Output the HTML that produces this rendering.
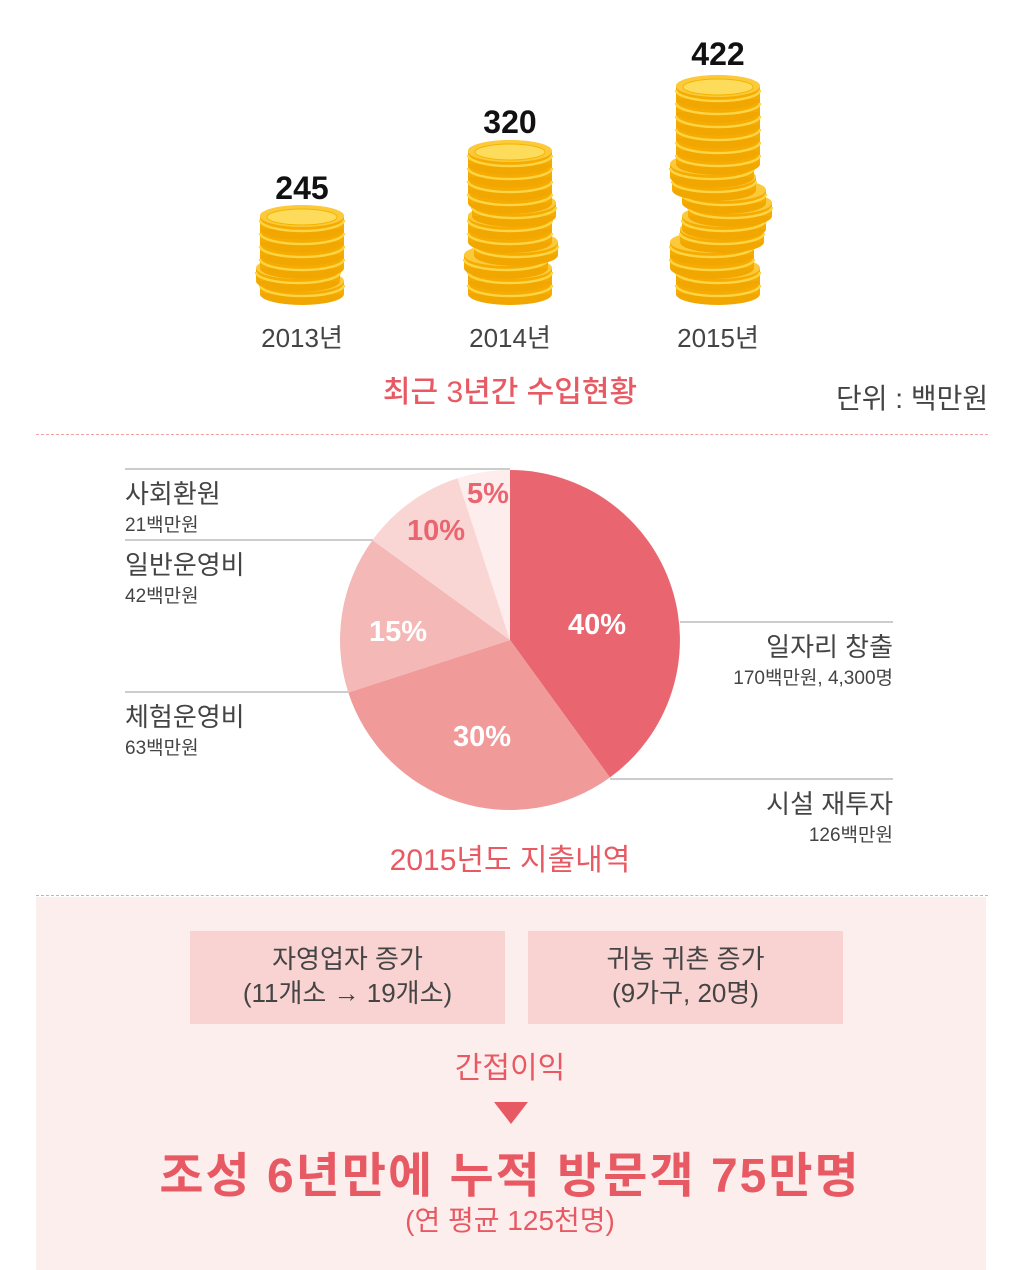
<!DOCTYPE html>
<html><head><meta charset="utf-8"><style>
body{margin:0;background:#fff;width:1024px;height:1270px;position:relative;overflow:hidden;font-family:"Liberation Sans","Noto Sans CJK KR",sans-serif;}
.a{position:absolute;white-space:nowrap;}
.c{transform:translateX(-50%);}
</style></head><body>
<svg id="coins" class="a" style="left:0;top:0" width="1024" height="320"></svg>
<div class="a c" style="left:302px;top:170px;font-size:32px;font-weight:bold;color:#111">245</div>
<div class="a c" style="left:510px;top:104px;font-size:32px;font-weight:bold;color:#111">320</div>
<div class="a c" style="left:718px;top:36px;font-size:32px;font-weight:bold;color:#111">422</div>
<div class="a c" style="left:302px;top:318px;font-size:26px;color:#444">2013년</div>
<div class="a c" style="left:510px;top:318px;font-size:26px;color:#444">2014년</div>
<div class="a c" style="left:718px;top:318px;font-size:26px;color:#444">2015년</div>
<div class="a c" style="left:510px;top:367px;font-size:30px;color:#e85a63;font-weight:500">최근 3년간 수입현황</div>
<div class="a" style="left:836px;top:377px;font-size:28px;color:#444">단위 : 백만원</div>
<div class="a" style="left:36px;top:434px;width:952px;border-top:1px dashed #f2a0a0"></div>

<svg class="a" style="left:0;top:440px" width="1024" height="400">
<g transform="translate(0,-440)">
<line x1="125" y1="469" x2="510" y2="469" stroke="#bbb" stroke-width="1.5"/>
<line x1="125" y1="540" x2="373" y2="540" stroke="#bbb" stroke-width="1.5"/>
<line x1="125" y1="692" x2="348" y2="692" stroke="#bbb" stroke-width="1.5"/>
<line x1="680" y1="622" x2="893" y2="622" stroke="#bbb" stroke-width="1.5"/>
<line x1="610" y1="779" x2="893" y2="779" stroke="#bbb" stroke-width="1.5"/>
<path d="M510,640 L510,470 A170,170 0 0 1 609.9,777.5 Z" fill="#e96670"/>
<path d="M510,640 L609.9,777.5 A170,170 0 0 1 348.3,692.5 Z" fill="#f09a9a"/>
<path d="M510,640 L348.3,692.5 A170,170 0 0 1 372.5,540.1 Z" fill="#f4b8b6"/>
<path d="M510,640 L372.5,540.1 A170,170 0 0 1 457.5,478.3 Z" fill="#f9d6d4"/>
<path d="M510,640 L457.5,478.3 A170,170 0 0 1 510,470 Z" fill="#fdeeed"/>
<g font-family="Liberation Sans, sans-serif" font-weight="bold" font-size="29" text-anchor="middle">
<text x="597" y="634" fill="#fff">40%</text>
<text x="482" y="746" fill="#fff">30%</text>
<text x="398" y="641" fill="#fff">15%</text>
<text x="436" y="540" fill="#e96670">10%</text>
<text x="488" y="503" fill="#e96670">5%</text>
</g></g></svg>
<div class="a" style="left:125px;top:474px;font-size:26px;color:#444">사회환원</div>
<div class="a" style="left:125px;top:510px;font-size:19px;color:#444">21백만원</div>
<div class="a" style="left:125px;top:545px;font-size:26px;color:#444">일반운영비</div>
<div class="a" style="left:125px;top:581px;font-size:19px;color:#444">42백만원</div>
<div class="a" style="left:125px;top:697px;font-size:26px;color:#444">체험운영비</div>
<div class="a" style="left:125px;top:733px;font-size:19px;color:#444">63백만원</div>
<div class="a" style="right:131px;top:627px;font-size:26px;color:#444">일자리 창출</div>
<div class="a" style="right:131px;top:663px;font-size:19px;color:#444">170백만원, 4,300명</div>
<div class="a" style="right:131px;top:784px;font-size:26px;color:#444">시설 재투자</div>
<div class="a" style="right:131px;top:820px;font-size:19px;color:#444">126백만원</div>
<div class="a c" style="left:510px;top:835px;font-size:30px;color:#e85a63">2015년도 지출내역</div>
<div class="a" style="left:36px;top:895px;width:952px;border-top:1px dashed #f2a0a0"></div>

<div class="a" style="left:36px;top:897px;width:950px;height:373px;background:#fdeeee"></div>
<div class="a" style="left:190px;top:931px;width:315px;height:93px;background:#f8d3d2;text-align:center;font-size:26px;color:#444;line-height:34px;padding-top:11px;box-sizing:border-box">자영업자 증가<br>(11개소 → 19개소)</div>
<div class="a" style="left:528px;top:931px;width:315px;height:93px;background:#f8d3d2;text-align:center;font-size:26px;color:#444;line-height:34px;padding-top:11px;box-sizing:border-box">귀농 귀촌 증가<br>(9가구, 20명)</div>
<div class="a c" style="left:510px;top:1043px;font-size:30px;color:#e85a63">간접이익</div>
<svg class="a" style="left:494px;top:1102px" width="34" height="22"><polygon points="0,0 34,0 17,22" fill="#e85a63"/></svg>
<div class="a c" style="left:510px;top:1136px;font-size:48px;font-weight:bold;color:#e85a63;letter-spacing:2px">조성 6년만에 누적 방문객 75만명</div>
<div class="a c" style="left:510px;top:1199px;font-size:28px;color:#e85a63">(연 평균 125천명)</div>

<script>
var s=document.getElementById('coins'),h='';
function stack(cx,n,offs){
 for(var i=0;i<n;i++){
  var x=cx+(offs[i]||0), yb=294-i*13, yt=yb-13;
  h+='<ellipse cx="'+x+'" cy="'+yb+'" rx="42" ry="11" fill="#f2a600"/>';
  h+='<rect x="'+(x-42)+'" y="'+yt+'" width="84" height="13" fill="#f5ab00"/>';
  h+='<path d="M'+(x-42)+','+(yt+4)+' A42,11 0 0 0 '+(x+42)+','+(yt+4)+'" fill="none" stroke="#fdd443" stroke-width="2.5"/>';
  h+='<ellipse cx="'+x+'" cy="'+yt+'" rx="42" ry="11" fill="#fcc93a"/>';
 }
 var x=cx+(offs[n-1]||0), yt=294-n*13;
 h+='<ellipse cx="'+x+'" cy="'+yt+'" rx="42" ry="11" fill="#fcc93a"/>';
 h+='<ellipse cx="'+x+'" cy="'+(yt+1)+'" rx="35" ry="8" fill="#fddc5c" stroke="#f5b400" stroke-width="1"/>';
}
stack(302,6,[0,-4,0,0,0,0]);
stack(510,11,[0,0,-4,6,0,0,4,0,0,0,0]);
stack(718,16,[0,0,-6,-6,4,6,12,6,-4,-6,0,0,0,0,0,0]);
s.innerHTML=h;
</script>
</body></html>
